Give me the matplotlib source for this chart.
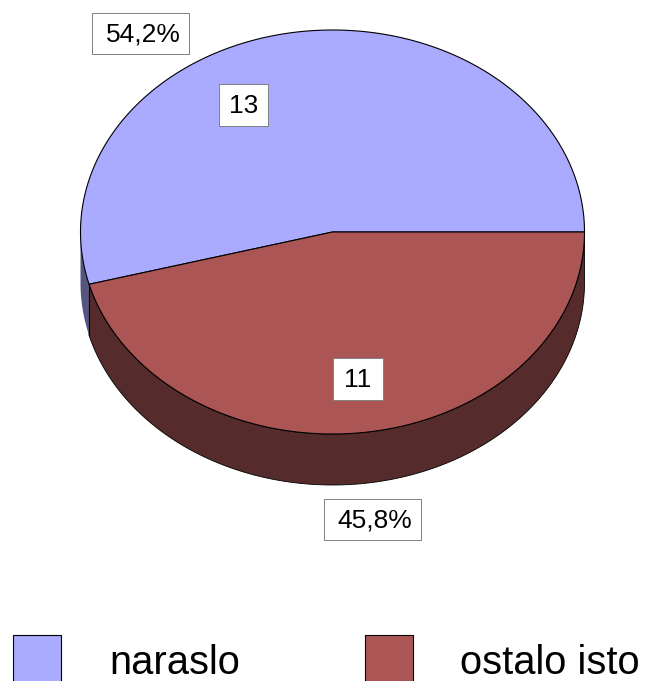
import numpy as np
import matplotlib
matplotlib.use("Agg")
import matplotlib.pyplot as plt
from matplotlib.patches import Polygon, Rectangle

categories = ["naraslo", "ostalo isto"]
counts = [13, 11]
percent_labels = ["54,2%", "45,8%"]
colors = ["#AAAAFF", "#AC5555"]
side_colors = ["#555580", "#552B2B"]

plt.rcParams["font.family"] = ["Liberation Sans", "DejaVu Sans"]
W, H = 646, 681
fig = plt.figure(figsize=(W / 100, H / 100), dpi=100)
ax = fig.add_axes([0, 0, 1, 1])
ax.set_xlim(0, W)
ax.set_ylim(H, 0)
ax.axis("off")

cx, cy, rx, ry, depth = 332.5, 232, 252, 202, 51
LW = 0.8


def pt(t):
    return cx + rx * np.cos(t), cy + ry * np.sin(t)


total = sum(counts)
red_end = 2 * np.pi * counts[1] / total   # red runs clockwise on screen from 3 o'clock
blue_end = 2 * np.pi

# Side walls (only the front half, y-down so t in 0..pi faces the viewer)
tr = np.linspace(0, red_end, 300)
xr, yr = pt(tr)
ax.add_patch(Polygon(np.r_[np.c_[xr, yr], np.c_[xr, yr + depth][::-1]],
                     fc=side_colors[1], ec="black", lw=0.6, zorder=1))
tb = np.linspace(red_end, np.pi, 60)
xb, yb = pt(tb)
ax.add_patch(Polygon(np.r_[np.c_[xb, yb], np.c_[xb, yb + depth][::-1]],
                     fc=side_colors[0], ec="none", zorder=1))
ax.plot([xb[0], xb[0]], [yb[0], yb[0] + depth], color="black", lw=LW, zorder=1.5)

# Top faces
tb = np.linspace(red_end, blue_end, 500)
xb, yb = pt(tb)
ax.add_patch(Polygon(np.r_[[[cx, cy]], np.c_[xb, yb]], fc=colors[0], ec="black", lw=LW, zorder=2))
ax.add_patch(Polygon(np.r_[[[cx, cy]], np.c_[xr, yr]], fc=colors[1], ec="black", lw=LW, zorder=2))


# Data labels
def label(x, y, w, h, s, dx=0.0):
    ax.add_patch(Rectangle((x, y), w, h, fc="white", ec="#808080", lw=0.7, zorder=3))
    ax.text(x + w / 2 + dx, y + h / 2 + 1, s, ha="center", va="center", fontsize=19, color="black", zorder=4)


label(92, 13, 97, 41, percent_labels[0], dx=2.5)
label(324, 499, 97, 41, percent_labels[1], dx=2.5)
label(219, 84, 49, 42, str(counts[0]), dx=0.5)
label(333, 358, 50, 42, str(counts[1]))

# Legend
for x, name, c, tx in zip([13, 365], categories, colors, [109.5, 460.5]):
    ax.add_patch(Rectangle((x, 635), 48, 48, fc=c, ec="black", lw=0.8, clip_on=True))
    ax.text(tx, 663, name, ha="left", va="center", fontsize=28.7, color="black")

fig.savefig("out.png", dpi=100)
